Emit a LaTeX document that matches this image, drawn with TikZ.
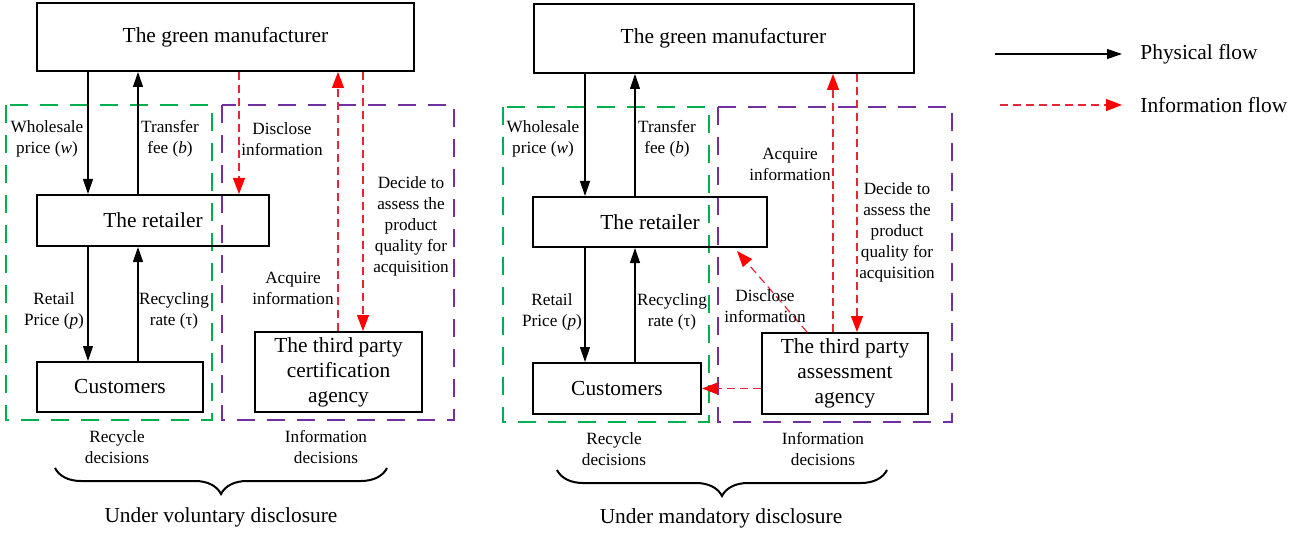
\documentclass[tikz,border=0pt]{standalone}
\usepackage{fontspec}
\setmainfont{Liberation Serif}
\usetikzlibrary{arrows.meta,decorations.pathreplacing}
\definecolor{grn}{RGB}{0,176,80}
\definecolor{pur}{RGB}{112,48,160}
\definecolor{infored}{RGB}{228,40,55}
\tikzset{
	box/.style={rectangle, draw=black, line width=1pt, align=center, inner sep=1pt,
		font=\fontsize{10.7}{12.5}\selectfont},
	lbl/.style={align=center, inner sep=0pt, font=\fontsize{8.6}{10.5}\selectfont},
	big/.style={inner sep=0pt, font=\fontsize{10.7}{12.5}\selectfont},
	phys/.style={line width=0.6pt, -{Triangle[length=7.5pt,width=5pt]}},
	info/.style={draw=infored, line width=0.6pt, dash pattern=on 4pt off 2.5pt,
		-{Triangle[length=8pt,width=6pt,fill=red,color=red]}},
	grnbox/.style={draw=grn, line width=1.4pt, dash pattern=on 9pt off 6pt},
	purbox/.style={draw=pur, line width=1.4pt, dash pattern=on 9pt off 6pt},
	brc/.style={line width=1pt, decorate, decoration={brace, mirror, amplitude=13pt}}
}
\begin{document}
\begin{tikzpicture}[x=0.5pt, y=-0.5pt]
	\useasboundingbox (0,0) rectangle (1308,535);
	% voluntary disclosure
	\draw[grnbox] (6,105) rectangle (212,420);
	\draw[purbox] (222,105) rectangle (454,420);
	\node[box, minimum width=188.5pt, minimum height=34pt] (gm1) at (225.5,37) {The green manufacturer};
	\node[box, minimum width=116pt, minimum height=25.5pt] (ret1) at (153,220.5) {The retailer};
	\node[box, minimum width=83pt, minimum height=25pt] (cus1) at (120,387) {Customers};
	\node[box, minimum width=83.5pt, minimum height=40pt] (tp1) at (338.5,372) {The third party\\certification\\agency};
	\coordinate (d1) at (88,0);
	\coordinate (u1) at (138,0);
	\coordinate (s1) at (239,0);
	\coordinate (a1) at (338,0);
	\coordinate (q1) at (363,0);
	\draw[phys] (gm1.south -| d1) -- (ret1.north -| d1);
	\draw[phys] (ret1.north -| u1) -- (gm1.south -| u1);
	\draw[phys] (ret1.south -| d1) -- (cus1.north -| d1);
	\draw[phys] (cus1.north -| u1) -- (ret1.south -| u1);
	\draw[info] (gm1.south -| s1) -- (ret1.north -| s1);
	\draw[info] (tp1.north -| a1) -- (gm1.south -| a1);
	\draw[info] (gm1.south -| q1) -- (tp1.north -| q1);
	\node[lbl] (wp1) at (47,139) {Wholesale\\price (\textit{w})};
	\node[lbl] (tf1) at (170,139) {Transfer\\fee (\textit{b})};
	\node[lbl] (di1) at (282,139) {Disclose\\information};
	\node[lbl] (dec1) at (411,226) {Decide to\\assess the\\product\\quality for\\acquisition};
	\node[lbl] (ai1) at (293,288) {Acquire\\information};
	\node[lbl] (rp1) at (54,311) {Retail\\Price (\textit{p})};
	\node[lbl] (rr1) at (174,311) {Recycling\\rate (τ)};
	\node[lbl] (rd1) at (117,447) {Recycle\\decisions};
	\node[lbl] (id1) at (326,447) {Information\\decisions};
	\draw[brc] (55,468) -- (387,468);
	\node[big] (uv) at (221,517) {Under voluntary disclosure};
	% mandatory disclosure
	\draw[grnbox] (503,107) rectangle (709,422);
	\draw[purbox] (718,107) rectangle (952,422);
	\node[box, minimum width=190pt, minimum height=34.5pt] (gm2) at (723.5,38.5) {The green manufacturer};
	\node[box, minimum width=117pt, minimum height=25pt] (ret2) at (650,222) {The retailer};
	\node[box, minimum width=84pt, minimum height=25.5pt] (cus2) at (617,388.5) {Customers};
	\node[box, minimum width=83pt, minimum height=40.5pt] (tp2) at (845,373.5) {The third party\\assessment\\agency};
	\coordinate (d2) at (585,0);
	\coordinate (u2) at (635,0);
	\coordinate (a2) at (833,0);
	\coordinate (q2) at (857,0);
	\draw[phys] (gm2.south -| d2) -- (ret2.north -| d2);
	\draw[phys] (ret2.north -| u2) -- (gm2.south -| u2);
	\draw[phys] (ret2.south -| d2) -- (cus2.north -| d2);
	\draw[phys] (cus2.north -| u2) -- (ret2.south -| u2);
	\draw[info] (tp2.north -| a2) -- (gm2.south -| a2);
	\draw[info] (gm2.south -| q2) -- (tp2.north -| q2);
	\draw[info] ([xshift=23pt]tp2.north west) -- ([xshift=-15.5pt,yshift=-1.5pt]ret2.south east);
	\draw[info] (tp2.west |- cus2.east) -- (cus2.east);
	\node[lbl] (wp2) at (543,139) {Wholesale\\price (\textit{w})};
	\node[lbl] (tf2) at (667,139) {Transfer\\fee (\textit{b})};
	\node[lbl] (ai2) at (790,164) {Acquire\\information};
	\node[lbl] (dec2) at (897,232) {Decide to\\assess the\\product\\quality for\\acquisition};
	\node[lbl] (di2) at (765,306) {Disclose\\information};
	\node[lbl] (rp2) at (552,312) {Retail\\Price (\textit{p})};
	\node[lbl] (rr2) at (672,312) {Recycling\\rate (τ)};
	\node[lbl] (rd2) at (614,449) {Recycle\\decisions};
	\node[lbl] (id2) at (823,449) {Information\\decisions};
	\draw[brc] (557,470) -- (887,470);
	\node[big] (um) at (721,518) {Under mandatory disclosure};
	% legend
	\coordinate (pa) at (995,54);
	\coordinate (ia) at (1000,105);
	\node[big, anchor=west] (lphys) at (1140,54) {Physical flow};
	\node[big, anchor=west] (linfo) at (1140,105) {Information flow};
	\draw[phys] (pa) -- ([xshift=-9pt]lphys.west);
	\draw[info] (ia) -- ([xshift=-9pt]linfo.west);
\end{tikzpicture}
\end{document}
